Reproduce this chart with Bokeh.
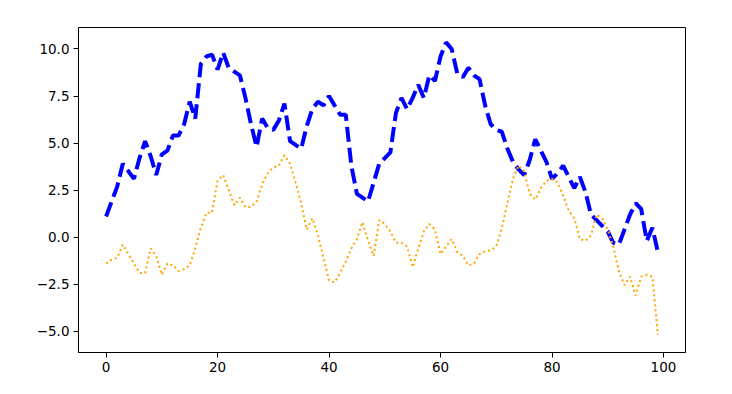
from bokeh.plotting import figure
from bokeh.models import Range1d, FixedTicker
from bokeh.embed import file_html
from bokeh.resources import INLINE

x = list(range(100))

blue = [1.1, 1.9, 2.7, 3.9, 3.5, 3.1, 4.2, 5.1, 4.3, 3.3,
        4.4, 4.6, 5.4, 5.4, 6.0, 7.2, 6.3, 9.2, 9.6, 9.7,
        8.9, 9.8, 9.0, 8.8, 8.6, 7.4, 6.0, 4.8, 6.3, 5.8,
        5.7, 6.2, 7.1, 5.1, 4.9, 4.7, 5.9, 6.8, 7.2, 7.0,
        7.5, 7.0, 6.5, 6.5, 3.8, 2.3, 2.1, 1.9, 2.9, 3.9,
        4.2, 4.5, 6.6, 7.4, 6.8, 7.4, 8.1, 7.4, 8.6, 8.3,
        9.6, 10.35, 10.0, 8.7, 8.5, 9.0, 8.6, 8.4, 7.0, 6.0,
        5.7, 5.6, 4.7, 4.0, 3.6, 3.3, 4.1, 5.2, 4.6, 4.0,
        3.1, 3.4, 3.8, 3.2, 2.6, 3.2, 2.4, 1.2, 0.9, 0.6,
        0.3, -0.3, -0.4, 0.4, 1.2, 1.8, 1.5, -0.2, 0.5, -0.8]

orange = [-1.4, -1.2, -1.1, -0.4, -0.9, -1.4, -1.9, -1.9, -0.6, -1.0,
          -2.0, -1.4, -1.5, -1.8, -1.7, -1.5, -0.6, 0.5, 1.3, 1.3,
          3.0, 3.3, 2.5, 1.7, 2.1, 1.6, 1.6, 1.9, 2.8, 3.4,
          3.7, 3.8, 4.35, 3.9, 2.9, 1.8, 0.4, 1.0, 0.1, -1.1,
          -2.3, -2.4, -1.9, -1.3, -0.6, -0.1, 0.8, -0.2, -1.0, 0.9,
          0.7, 0.3, -0.3, -0.3, -0.5, -1.6, -0.6, 0.3, 0.7, 0.4,
          -0.9, -0.5, -0.1, -0.8, -1.0, -1.5, -1.4, -0.9, -0.75, -0.7,
          -0.5, 0.5, 1.8, 3.1, 3.8, 3.5, 2.3, 2.0, 2.6, 3.0,
          3.1, 2.9, 2.2, 1.4, 1.0, -0.1, -0.2, 0.1, 1.2, 1.0,
          0.4, -0.5, -1.8, -2.55, -2.1, -3.1, -2.1, -2.0, -2.1, -5.2]

x_ticks = [0, 20, 40, 60, 80, 100]
y_ticks = [-5.0, -2.5, 0.0, 2.5, 5.0, 7.5, 10.0]
y_tick_labels = ["\u22125.0", "\u22122.5", "0.0", "2.5", "5.0", "7.5", "10.0"]

p = figure(width=716, height=378, output_backend="svg", toolbar_location=None,
           x_range=Range1d(-4.95, 103.95), y_range=Range1d(-6.13, 11.14),
           min_border_left=78, min_border_right=31, min_border_top=27,
           min_border_bottom=26)

p.line(x, blue, line_color="blue", line_width=4, line_dash="15 6", line_cap="butt")
p.line(x, orange, line_color="orange", line_width=2, line_dash="2 3", line_cap="butt")

p.xgrid.visible = False
p.ygrid.visible = False
p.outline_line_color = "black"
p.outline_line_width = 1
p.background_fill_color = "white"
p.border_fill_color = "white"

p.xaxis.ticker = FixedTicker(ticks=x_ticks)
p.yaxis.ticker = FixedTicker(ticks=y_ticks)
p.yaxis.major_label_overrides = {t: l for t, l in zip(y_ticks, y_tick_labels)}
p.xaxis.major_label_overrides = {t: str(t) for t in x_ticks}

for ax in (p.xaxis, p.yaxis):
    ax.axis_line_color = "black"
    ax.axis_line_width = 1
    ax.major_tick_line_color = "black"
    ax.major_tick_in = 0
    ax.major_tick_out = 5
    ax.minor_tick_line_color = None
    ax.major_label_text_font = "DejaVu Sans"
    ax.major_label_text_font_size = "13.5px"
    ax.major_label_text_color = "black"
    ax.major_label_standoff = 4

open("out.html", "w").write(file_html(p, INLINE))
